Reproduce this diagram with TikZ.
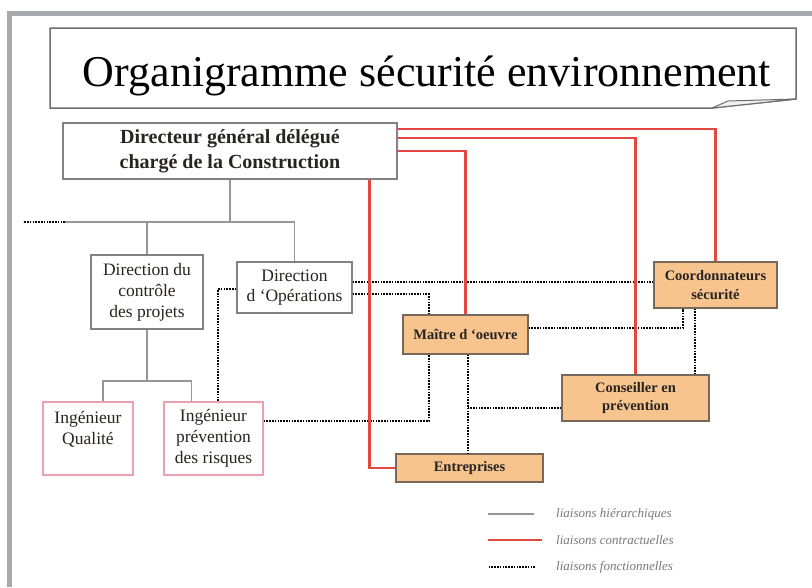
\documentclass[tikz,border=0pt]{standalone}
\usepackage{fontspec}
\setmainfont{Liberation Serif}
\definecolor{framegray}{RGB}{168,168,176}
\definecolor{titleline}{RGB}{110,110,110}
\definecolor{boxgray}{RGB}{130,130,130}
\definecolor{pinkline}{RGB}{236,160,176}
\definecolor{orangefill}{RGB}{248,196,142}
\definecolor{orangeline}{RGB}{120,104,92}
\definecolor{hiergray}{RGB}{150,150,150}
\definecolor{contractred}{RGB}{226,72,64}
\definecolor{textdark}{RGB}{40,36,34}
\definecolor{legendgray}{RGB}{120,120,120}

\begin{document}
\begin{tikzpicture}[x=1pt,y=-1pt,
    box/.style={draw=boxgray, line width=1.2pt, fill=white, align=center,
      inner sep=0pt, text=textdark, font=\fontsize{17.5}{20.8}\selectfont},
    engbox/.style={box, draw=pinkline},
    orgbox/.style={draw=orangeline, line width=1.2pt, fill=orangefill,
      align=center, inner sep=0pt, text=textdark,
      font=\bfseries\fontsize{14.5}{18.5}\selectfont},
    hier/.style={draw=hiergray, line width=1.8pt},
    contract/.style={draw=contractred, line width=2.6pt},
    func/.style={draw=black, line width=2.4pt, dash pattern=on 1.6pt off 1.2pt},
    legtext/.style={anchor=west, inner sep=0pt, text=legendgray,
      font=\itshape\fontsize{13}{15}\selectfont}]
                    \useasboundingbox (0,0) rectangle (812,587);
                    \fill[white] (0,0) rectangle (812,587);%

                    % Frame of the slide
                    \fill[framegray] (7,11) rectangle (812,16);%
                    \fill[framegray] (7,11) rectangle (12,587);%

                    % Title banner with folded corner
                    \draw[titleline, line width=1.5pt, fill=white] (50,28) -- (796,28) -- (796,99) -- (712,108) -- (50,108) -- cycle;%
                    \draw[titleline, line width=1pt, fill=black!6] (712,108) -- (728,101) -- (796,99) -- cycle;%
                    \node[anchor=base, inner sep=0pt, font=\fontsize{44}{48}\selectfont] (title) at (427,86) {Organigramme sécurité environnement};%

                    % Boxes of the chart
                    \node[box, minimum width=334, minimum height=56, font=\bfseries\fontsize{20}{25}\selectfont] (dir) at (230,151) {Directeur général délégué\\chargé de la Construction};%
                    \node[box, minimum width=112, minimum height=74] (dcp) at (147,292) {Direction du\\contrôle\\des projets};%
                    \node[box, minimum width=115, minimum height=51] (dop) at (294.5,287.5) {Direction\\d ‘Opérations};%
                    \node[engbox, minimum width=90, minimum height=73] (iq) at (88,438.5) {Ingénieur\\Qualité\\\mbox{}};%
                    \node[engbox, minimum width=99, minimum height=73] (ipr) at (213.5,438.5) {Ingénieur\\prévention\\des risques};%
                    \node[orgbox, minimum width=125, minimum height=39] (mo) at (465.5,334.5) {Maître d ‘oeuvre};%
                    \node[orgbox, minimum width=123, minimum height=46] (coord) at (715.5,285) {Coordonnateurs\\sécurité};%
                    \node[orgbox, minimum width=147, minimum height=46] (cons) at (635.5,398) {Conseiller en\\prévention};%
                    \node[orgbox, minimum width=147, minimum height=28] (ent) at (469.5,468) {Entreprises};%

                    % Hierarchical links
                    \coordinate (hbar) at (0,222);%
                    \coordinate (hleft) at (65,222);%
                    \coordinate (hend) at (23,222);%
                    \draw[hier] (dir.south) -- (dir.south |- hbar);%
                    \draw[hier] (dcp.north) |- (dop.north |- hbar) -- (dop.north);%
                    \draw[hier] (dcp.north |- hbar) -- (hleft);%
                    \draw[func] (hleft) -- (hend);%
                    \coordinate (lbar) at (0,381);%
                    \draw[hier] (dcp.south) -- (dcp.south |- lbar);%
                    \draw[hier] ([xshift=15]iq.north) |- ([xshift=-22]ipr.north |- lbar) -- ([xshift=-22]ipr.north);%

                    % Functional links
                    \coordinate (mo-a) at ([xshift=-36.5]mo.north);%
                    \coordinate (mo-b) at ([xshift=-36.5]mo.south);%
                    \coordinate (mo-c) at ([xshift=2.5]mo.south);%
                    \draw[func] ([yshift=5.5]dop.east) -- ([yshift=5.5]dop.east -| coord.west);%
                    \draw[func] ([yshift=-6.5]dop.east) -| (mo-a);%
                    \draw[func] ([yshift=-1.5]dop.west) -| ([xshift=4.5]ipr.north);%
                    \draw[func] ([yshift=6.5]mo.east) -| ([xshift=-32.5]coord.south);%
                    \draw[func] ([xshift=-20.5]coord.south) -- ([xshift=-20.5]coord.south |- cons.north);%
                    \draw[func] ([yshift=17.5]ipr.east) -| (mo-b);%
                    \draw[func] (mo-c) -- (mo-c |- ent.north);%
                    \draw[func] ([yshift=-10]cons.west) -- ([yshift=-10]cons.west -| mo-c);%

                    % Contractual links
                    \draw[contract] ([yshift=22]dir.east) -| (coord.north);%
                    \draw[contract] ([yshift=13]dir.east) -| (cons.north);%
                    \draw[contract] (dir.east) -| (mo.north);%
                    \draw[contract] ([xshift=-28]dir.south east) |- (ent.west);%

                    % Legend
                    \node[legtext] (leg-h) at (556,514) {liaisons hiérarchiques};%
                    \node[legtext] (leg-c) at (556,540) {liaisons contractuelles};%
                    \node[legtext] (leg-f) at (556,567) {liaisons fonctionnelles};%
                    \draw[hier] ([xshift=-22]leg-h.west) -- ++(-46,0);%
                    \draw[contract] ([xshift=-14]leg-c.west) -- ++(-54,0);%
                    \draw[func] ([xshift=-21]leg-f.west) -- ++(-47,0);%
\end{tikzpicture}
\end{document}
